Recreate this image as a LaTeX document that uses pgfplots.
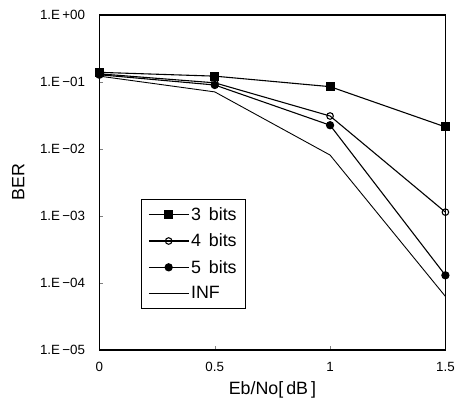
\documentclass[border=0pt]{standalone}
\usepackage{fontspec}
\setmainfont{Liberation Sans}
\usepackage{pgfplots}
\pgfplotsset{compat=1.18}

\begin{document}
\begin{tikzpicture}
\begin{axis}[
  scale only axis,
  width=348bp, height=337bp,
  ymode=log,
  xmin=0, xmax=1.5,
  ymin=1e-5, ymax=1,
  xtick={0,0.5,1,1.5},
  xticklabels={0,0.5,1,1.5},
  ytick={1,1e-1,1e-2,1e-3,1e-4,1e-5},
  yticklabels={1.E\,+00,1.E\,−01,1.E\,−02,1.E\,−03,1.E\,−04,1.E\,−05},
  tick pos=left,
  tick align=inside,
  major tick length=4bp,
  minor tick length=2.5bp,
  xlabel={Eb/No[\,dB\,]},
  ylabel={BER},
  label style={font=\fontsize{18}{20}\selectfont},
  tick label style={font=\fontsize{13.5}{15}\selectfont},
  xticklabel style={yshift=-9bp},
  yticklabel style={xshift=-11bp},
  xlabel style={yshift=-3bp},
  ylabel style={yshift=9bp},
  axis line style={line width=1.2pt},
  every axis plot/.append style={black, line width=1.1pt},
  legend image code/.code={
    \draw[mark repeat=2, mark phase=2, #1]
      plot coordinates {(0bp,0bp) (20bp,0bp) (40bp,0bp)};},
  legend style={
    at={(0.12,0.45)}, anchor=north west,
    font=\fontsize{18}{20}\selectfont,
    draw=black, line width=0.7pt,
    row sep=8bp, inner ysep=6bp, inner xsep=7bp,
  },
  legend cell align=left,
]
\addplot[mark=square*, mark size=4bp] coordinates {
  (0,0.139) (0.5,0.122) (1,0.085) (1.5,0.0213)};
\addlegendentry{3\, bits}
\addplot[mark=o, mark size=3.3bp, mark options={fill=white}] coordinates {
  (0,0.132) (0.5,0.097) (1,0.031) (1.5,0.00114)};
\addlegendentry{4\, bits}
\addplot[mark=*, mark size=3.6bp] coordinates {
  (0,0.128) (0.5,0.090) (1,0.0226) (1.5,0.00013)};
\addlegendentry{5\, bits}
\addplot[no marks, line width=0.9pt] coordinates {
  (0,0.122) (0.5,0.071) (1,0.0081) (1.5,0.000063)};
\addlegendentry{INF}
\end{axis}
\path ([yshift=15bp]current axis.north west)
      ([yshift=-60bp,xshift=-100bp]current axis.south west);
\end{tikzpicture}
\end{document}
